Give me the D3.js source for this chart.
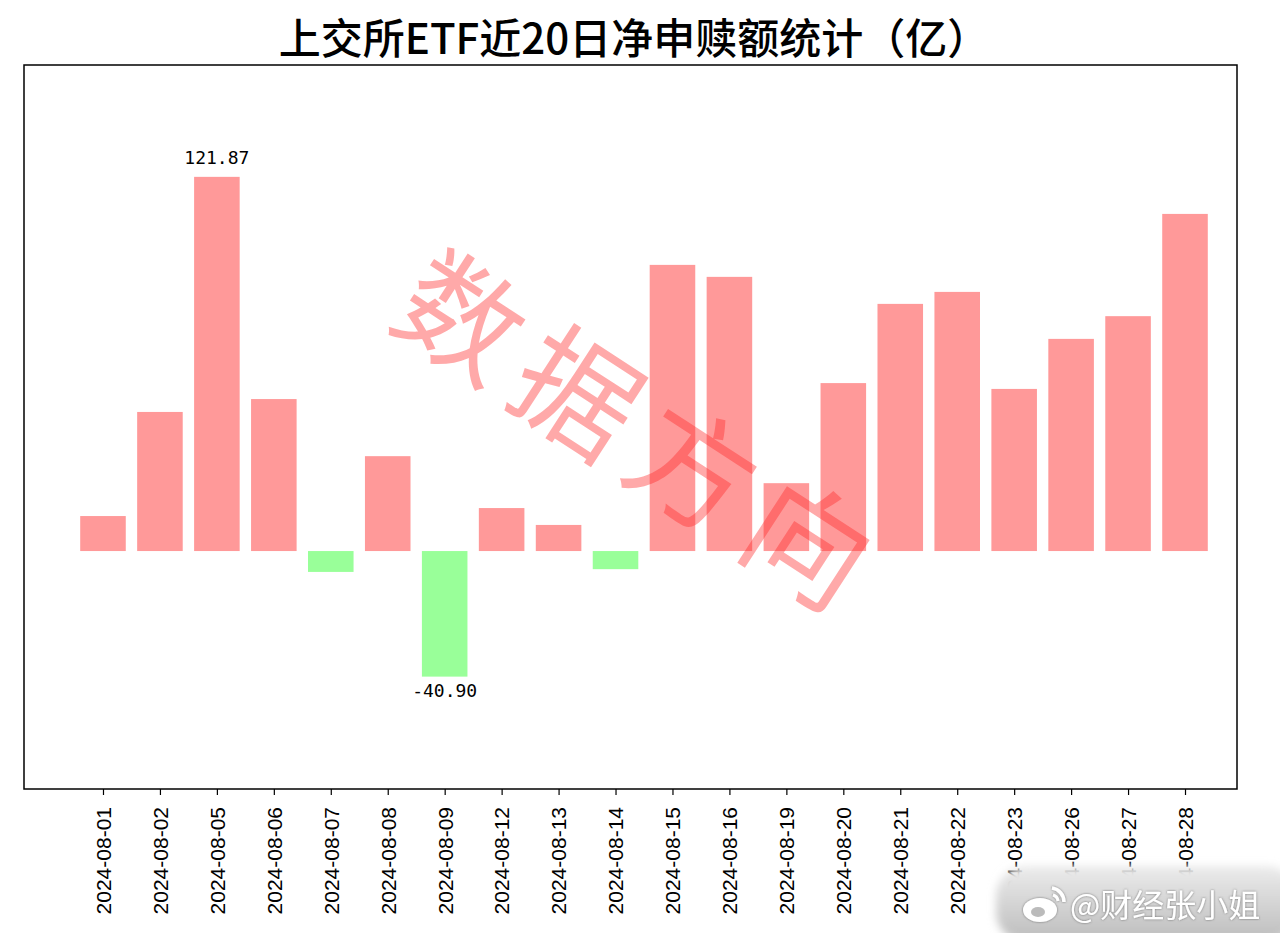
<!DOCTYPE html>
<html>
<head>
    <title></title>
    <meta charset="utf-8">
    <style>
        body { margin: 0; background: #fff; }
    </style>
</head>
<body>
<script src="https://d3js.org/d3.v7.min.js"></script>
<script>
    var dates = ['2024-08-01', '2024-08-02', '2024-08-05', '2024-08-06', '2024-08-07',
        '2024-08-08', '2024-08-09', '2024-08-12', '2024-08-13', '2024-08-14',
        '2024-08-15', '2024-08-16', '2024-08-19', '2024-08-20', '2024-08-21',
        '2024-08-22', '2024-08-23', '2024-08-26', '2024-08-27', '2024-08-28'];
    var values = [11.4, 45.3, 121.87, 49.5, -6.8, 30.9, -40.90, 14.0, 8.5, -5.9,
        93.2, 89.3, 22.1, 54.7, 80.5, 84.4, 52.8, 69.1, 76.5, 109.8];
    var labelled = [2, 6];   // max and min get a value label
    var title = '上交所ETF近20日净申赎额统计（亿）';

    var W = 1280, H = 933;
    var plot = { left: 24, right: 1237, top: 65, bottom: 789 };

    var svg = d3.select('body').append('svg')
        .attr('width', W)
        .attr('height', H);

    var x = d3.scaleLinear()
        .domain([-1.387, dates.length - 1 + 0.913])
        .range([plot.left, plot.right]);
    var y = d3.scaleLinear()
        .domain([-77.5, 158.3])
        .range([plot.bottom, plot.top]);
    var step = x(1) - x(0);
    var bw = step * 0.8;

    svg.append('text')
        .attr('x', 634)
        .attr('y', 54)
        .attr('text-anchor', 'middle')
        .attr('font-family', 'Noto Sans CJK SC')
        .attr('font-weight', 500)
        .attr('font-size', 42)
        .attr('fill', '#000')
        .text(title);

    svg.selectAll('rect.bar').data(values).enter()
        .append('rect')
        .attr('class', 'bar')
        .attr('x', function (d, i) { return x(i) - bw / 2; })
        .attr('y', function (d) { return y(Math.max(0, d)); })
        .attr('width', bw)
        .attr('height', function (d) { return Math.abs(y(d) - y(0)); })
        .attr('fill', function (d) { return d >= 0 ? '#ff9999' : '#99ff99'; });

    svg.selectAll('text.val').data(labelled).enter()
        .append('text')
        .attr('class', 'val')
        .attr('x', function (i) { return x(i); })
        .attr('y', function (i) { return values[i] >= 0 ? y(values[i]) - 13 : y(values[i]) + 20; })
        .attr('text-anchor', 'middle')
        .attr('font-family', 'DejaVu Sans Mono')
        .attr('font-size', 18)
        .attr('fill', '#000')
        .text(function (i) { return values[i].toFixed(2); });

    // watermark
    svg.append('text')
        .attr('transform', 'translate(646,428) rotate(33)')
        .attr('text-anchor', 'middle')
        .attr('dominant-baseline', 'central')
        .attr('font-family', 'Noto Sans CJK SC')
        .attr('font-weight', 400)
        .attr('font-size', 122)
        .attr('letter-spacing', 16)
        .attr('fill', 'rgba(255,40,40,0.4)')
        .text('数据方向');

    svg.append('rect')
        .attr('x', plot.left)
        .attr('y', plot.top)
        .attr('width', plot.right - plot.left)
        .attr('height', plot.bottom - plot.top)
        .attr('fill', 'none')
        .attr('stroke', '#000')
        .attr('stroke-width', 1.5);

    var xAxis = d3.axisBottom(x)
        .tickValues(d3.range(dates.length))
        .tickSize(6)
        .tickFormat(function (i) { return dates[i]; });

    var ax = svg.append('g')
        .attr('transform', 'translate(0,' + plot.bottom + ')')
        .call(xAxis);
    ax.select('.domain').remove();
    ax.selectAll('line').attr('stroke', '#000').attr('stroke-width', 1.2);
    ax.selectAll('text')
        .attr('font-family', 'Liberation Sans')
        .attr('font-size', 21)
        .attr('fill', '#000')
        .attr('text-anchor', 'end')
        .attr('dy', '0.35em')
        .attr('transform', 'translate(0,18) rotate(-90)')
        .attr('x', 0)
        .attr('y', 0);

    // weibo stamp
    var defs = svg.append('defs');
    var blur = defs.append('filter').attr('id', 'blur')
        .attr('x', '-20%').attr('y', '-50%').attr('width', '140%').attr('height', '200%');
    blur.append('feGaussianBlur').attr('stdDeviation', 4);
    var sh = defs.append('filter').attr('id', 'shadow');
    sh.append('feDropShadow').attr('dx', 0).attr('dy', 0).attr('stdDeviation', 1.2)
        .attr('flood-color', '#555').attr('flood-opacity', 0.8);
    var grad = defs.append('linearGradient').attr('id', 'stampg')
        .attr('x1', 0).attr('y1', 0).attr('x2', 0).attr('y2', 1);
    grad.append('stop').attr('offset', 0).attr('stop-color', '#ececec');
    grad.append('stop').attr('offset', 1).attr('stop-color', '#bcbcbc');

    svg.append('rect')
        .attr('x', 996).attr('y', 866)
        .attr('width', 300).attr('height', 76)
        .attr('rx', 30)
        .attr('fill', 'url(#stampg)')
        .attr('filter', 'url(#blur)');

    var logo = svg.append('g').attr('filter', 'url(#shadow)');
    logo.append('ellipse').attr('cx', 1040).attr('cy', 910).attr('rx', 17).attr('ry', 12)
        .attr('fill', '#fff');
    logo.append('ellipse').attr('cx', 1038).attr('cy', 912).attr('rx', 7).attr('ry', 5)
        .attr('fill', '#bbb');
    logo.append('path').attr('d', 'M1052,888 a14,14 0 0 1 12,14')
        .attr('fill', 'none').attr('stroke', '#fff').attr('stroke-width', 3.5);
    logo.append('path').attr('d', 'M1053,895 a7,7 0 0 1 5,6')
        .attr('fill', 'none').attr('stroke', '#fff').attr('stroke-width', 3);

    svg.append('text')
        .attr('x', 1070).attr('y', 917)
        .attr('font-family', 'Noto Sans CJK SC')
        .attr('font-size', 32)
        .attr('fill', '#fff')
        .attr('filter', 'url(#shadow)')
        .text('@财经张小姐');
</script>
</body>
</html>
